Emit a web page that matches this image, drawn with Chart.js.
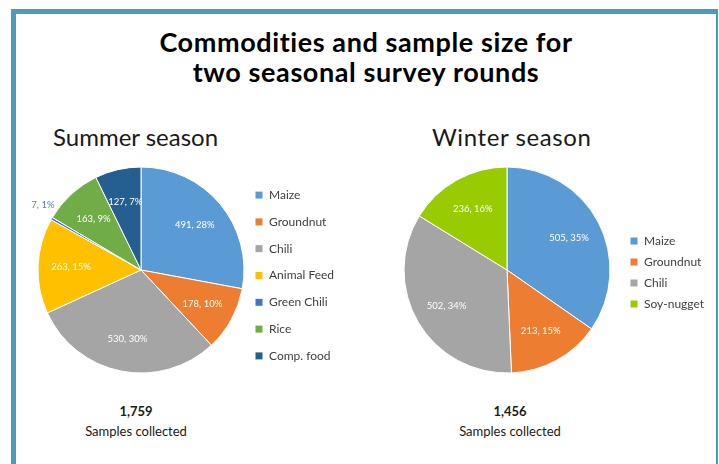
<!DOCTYPE html>
<html>
<head>
<meta charset="utf-8">
<script src="https://cdn.jsdelivr.net/npm/chart.js@4/dist/chart.umd.min.js"></script>
<style>
html,body{margin:0;padding:0;background:#fff;}
body{width:719px;height:464px;position:relative;overflow:hidden;font-family:Lato,"Open Sans",sans-serif;}
#frame{position:absolute;left:11px;top:9px;width:700px;height:470px;border-left:5px solid #4b9bbf;border-top:5px solid #4b9bbf;border-right:2px solid #4b9bbf;}
#title{position:absolute;left:16px;width:700px;top:27px;text-align:center;font-weight:700;font-size:27px;letter-spacing:0.6px;line-height:30px;color:#000;}
.season{position:absolute;top:122px;font-size:24px;line-height:30px;color:#1a1a1a;white-space:nowrap;}
.total{position:absolute;width:200px;text-align:center;color:#1a1a1a;font-size:13px;line-height:20px;}
.total b{font-weight:700;}
canvas{position:absolute;}
</style>
</head>
<body>
<div id="frame"></div>
<div id="title">Commodities and sample size for<br>two seasonal survey rounds</div>
<div class="season" style="left:53px">Summer season</div>
<div class="season" style="left:432px;letter-spacing:0.6px">Winter season</div>
<canvas id="summer" width="340" height="220" style="left:20px;top:160px"></canvas>
<canvas id="winter" width="329" height="220" style="left:390px;top:160px"></canvas>
<div class="total" id="summerTotal" style="left:36px;top:401px"></div>
<div class="total" id="winterTotal" style="left:410px;top:401px"></div>
<script>
// ---- data ----
const summerLabels = ['Maize', 'Groundnut', 'Chili', 'Animal Feed', 'Green Chili', 'Rice', 'Comp. food'];
const summerValues = [491, 178, 530, 263, 7, 163, 127];
const summerPercents = [28, 10, 30, 15, 1, 9, 7];
const summerColors = ['#5B9BD5', '#ED7D31', '#A5A5A5', '#FFC000', '#4472C4', '#70AD47', '#255E91'];

const winterLabels = ['Maize', 'Groundnut', 'Chili', 'Soy-nugget'];
const winterValues = [505, 213, 502, 236];
const winterPercents = [35, 15, 34, 16];
const winterColors = ['#5B9BD5', '#ED7D31', '#A5A5A5', '#99CC00'];

const totalCaption = 'Samples collected';

// ---- plugins ----
const sliceLabels = {
  id: 'sliceLabels',
  afterDatasetsDraw(chart, args, opts) {
    const ctx = chart.ctx;
    const meta = chart.getDatasetMeta(0);
    const data = chart.data.datasets[0].data;
    const total = data.reduce((a, b) => a + b, 0);
    ctx.save();
    ctx.font = '9.5px Lato, sans-serif';
    ctx.textAlign = 'center';
    ctx.textBaseline = 'middle';
    meta.data.forEach((arc, i) => {
      const p = arc.getProps(['x', 'y', 'startAngle', 'endAngle', 'outerRadius'], true);
      const mid = (p.startAngle + p.endAngle) / 2;
      const small = data[i] / total < 0.02;
      const r = p.outerRadius * (small ? 1.14 : 0.68);
      const a = small ? mid + 0.06 : mid;
      ctx.fillStyle = small ? '#5a7db5' : '#ffffff';
      ctx.fillText(data[i] + ', ' + opts.percents[i] + '%', p.x + Math.cos(a) * r, p.y + Math.sin(a) * r);
    });
    ctx.restore();
  }
};

function legendPlace(width, boxX, dy) {
  return {
    id: 'legendPlace',
    beforeLayout(chart) {
      const lg = chart.legend;
      if (lg && !lg.__patched) {
        const fit = lg.fit;
        lg.fit = function () { fit.call(this); this.width = width; };
        lg.__patched = true;
      }
    },
    afterLayout(chart) {
      const lg = chart.legend;
      const pad = lg.options.labels.padding;
      lg.left = boxX - pad;
      lg.right = lg.left + lg.width;
      lg.top += dy;
      lg.bottom += dy;
    }
  };
}

function makePie(id, labels, values, percents, colors, padLeft, legendWidth, legendPadding, boxX, dy) {
  return new Chart(document.getElementById(id), {
    type: 'pie',
    data: {
      labels: labels,
      datasets: [{
        data: values,
        backgroundColor: colors,
        borderColor: '#ffffff',
        borderWidth: 1,
        hoverOffset: 0
      }]
    },
    options: {
      responsive: false,
      devicePixelRatio: 1,
      animation: false,
      events: [],
      layout: { padding: { left: padLeft, right: 0, top: 6.5, bottom: 6.5 } },
      plugins: {
        tooltip: { enabled: false },
        title: { display: false },
        legend: {
          position: 'right',
          labels: {
            boxWidth: 8,
            boxHeight: 8,
            padding: legendPadding,
            color: '#3f3f3f',
            font: { family: 'Lato', size: 12 }
          }
        },
        sliceLabels: { percents: percents }
      }
    },
    plugins: [sliceLabels, legendPlace(legendWidth, boxX, dy)]
  });
}

function fillTotal(id, values) {
  const sum = values.reduce((a, b) => a + b, 0);
  document.getElementById(id).innerHTML = '<b>' + sum.toLocaleString('en-US') + '</b><br>' + totalCaption;
}

function start() {
  fillTotal('summerTotal', summerValues);
  fillTotal('winterTotal', winterValues);
  makePie('summer', summerLabels, summerValues, summerPercents, summerColors, 17.5, 115.5, 14.8, 235, 5.5);
  makePie('winter', winterLabels, winterValues, winterPercents, winterColors, 13.5, 108.5, 9, 240, 2.5);
}

if (document.fonts && document.fonts.load) {
  Promise.all([
    document.fonts.load('12px Lato'),
    document.fonts.load('bold 27px Lato'),
    document.fonts.load('9.5px Lato')
  ]).then(start, start);
} else {
  start();
}
</script>
</body>
</html>
